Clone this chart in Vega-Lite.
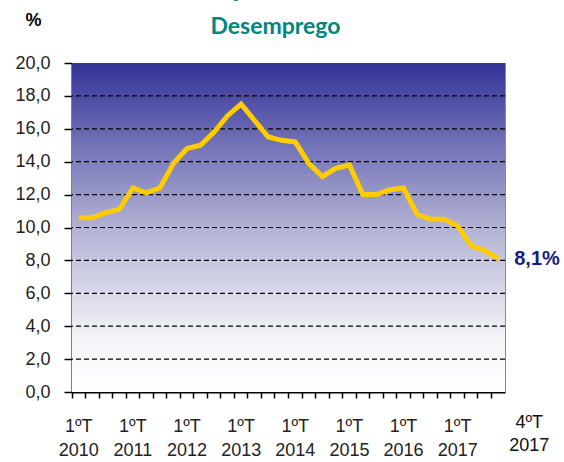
{
  "$schema": "https://vega.github.io/schema/vega-lite/v6.json",
  "autosize": "none",
  "width": 433,
  "height": 329,
  "padding": {"left": 72, "top": 63, "right": 59, "bottom": 70},
  "background": "white",
  "config": {
    "view": {"stroke": "#8a8a8a", "strokeWidth": 1},
    "font": "Liberation Sans",
    "axisY": {"labelOverlap": false},
    "axisX": {"labelOverlap": false}
  },
  "title": {
    "text": ["Evolução da Taxa de", "Desemprego"],
    "font": "Lato",
    "fontSize": 23,
    "fontWeight": "bold",
    "color": "#00857F",
    "anchor": "middle",
    "dx": -13,
    "dy": 36,
    "offset": 8,
    "lineHeight": 37
  },
  "datasets": {
    "taxa": [
      {"t": "2010-1", "v": 10.6}, {"t": "2010-2", "v": 10.6}, {"t": "2010-3", "v": 10.9}, {"t": "2010-4", "v": 11.1},
      {"t": "2011-1", "v": 12.4}, {"t": "2011-2", "v": 12.1}, {"t": "2011-3", "v": 12.4}, {"t": "2011-4", "v": 13.9},
      {"t": "2012-1", "v": 14.8}, {"t": "2012-2", "v": 15.0}, {"t": "2012-3", "v": 15.8}, {"t": "2012-4", "v": 16.8},
      {"t": "2013-1", "v": 17.5}, {"t": "2013-2", "v": 16.5}, {"t": "2013-3", "v": 15.5}, {"t": "2013-4", "v": 15.3},
      {"t": "2014-1", "v": 15.2}, {"t": "2014-2", "v": 13.9}, {"t": "2014-3", "v": 13.1}, {"t": "2014-4", "v": 13.6},
      {"t": "2015-1", "v": 13.8}, {"t": "2015-2", "v": 12.0}, {"t": "2015-3", "v": 12.0}, {"t": "2015-4", "v": 12.3},
      {"t": "2016-1", "v": 12.4}, {"t": "2016-2", "v": 10.8}, {"t": "2016-3", "v": 10.5}, {"t": "2016-4", "v": 10.5},
      {"t": "2017-1", "v": 10.1}, {"t": "2017-2", "v": 8.9}, {"t": "2017-3", "v": 8.6}, {"t": "2017-4", "v": 8.1}
    ],
    "fundo": [{"v": 0, "v2": 20}],
    "grade": [{"v": 2}, {"v": 4}, {"v": 6}, {"v": 8}, {"v": 10}, {"v": 12}, {"v": 14}, {"v": 16}, {"v": 18}],
    "notas": [{"t": "2017-4", "v": 8.1, "rotulo": "8,1%"}],
    "periodo": [{"t": "2017-4", "v": 0, "rotulo": "4ºT\n2017"}]
  },
  "encoding": {
    "y": {
      "field": "v", "type": "quantitative",
      "scale": {"domain": [0, 20], "nice": false},
      "axis": {
        "title": "%",
        "titleAngle": 0,
        "titleFont": "Liberation Sans",
        "titleFontSize": 18,
        "titleFontWeight": "bold",
        "titleColor": "black",
        "titleAlign": "center",
        "titleBaseline": "middle",
        "titleX": -39,
        "titleY": -43,
        "values": [0, 2, 4, 6, 8, 10, 12, 14, 16, 18, 20],
        "labelExpr": "replace(format(datum.value, '.1f'), '.', ',')",
        "labelFont": "Liberation Sans",
        "labelFontSize": 18,
        "labelColor": "#222222",
        "labelPadding": 14,
        "labelOverlap": false,
        "domainColor": "black",
        "domainWidth": 2,
        "tickColor": "black",
        "tickSize": 8,
        "tickWidth": 1.5,
        "grid": false
      }
    }
  },
  "layer": [
    {
      "data": {"name": "fundo"},
      "mark": {
        "type": "rect",
        "fill": {
          "gradient": "linear",
          "x1": 0, "y1": 0, "x2": 0, "y2": 1,
          "stops": [
            {"offset": 0, "color": "#333399"},
            {"offset": 0.5, "color": "#b2b2d4"},
            {"offset": 0.85, "color": "#f6f6fa"},
            {"offset": 1, "color": "#ffffff"}
          ]
        }
      },
      "encoding": {
        "y2": {"field": "v2"}
      }
    },
    {
      "data": {"name": "grade"},
      "mark": {"type": "rule", "color": "black", "strokeWidth": 1.2, "strokeDash": [5, 3]},
      "encoding": {}
    },
    {
      "data": {"name": "taxa"},
      "mark": {"type": "line", "color": "#FFCC00", "strokeWidth": 5, "strokeJoin": "miter"},
      "encoding": {
        "x": {
          "field": "t", "type": "ordinal", "sort": null,
          "scale": {"type": "band", "paddingInner": 0, "paddingOuter": 0},
          "axis": {
            "title": null,
            "labelAngle": 0,
            "labelExpr": "split(datum.value,'-')[1]=='1' ? ['1ºT', split(datum.value,'-')[0]] : ''",
            "labelFont": "Liberation Sans",
            "labelFontSize": 18,
            "labelColor": "#222222",
            "labelLineHeight": 24,
            "labelPadding": 19,
            "labelOverlap": false,
            "domainColor": "black",
            "domainWidth": 2,
            "tickColor": "black",
            "tickSize": 6,
            "tickWidth": 1.5,
            "bandPosition": 0,
            "labelOffset": 0,
            "grid": false
          }
        }
      }
    },
    {
      "data": {"name": "notas"},
      "mark": {"type": "text", "align": "left", "baseline": "middle", "dx": 16, "font": "Liberation Sans", "fontSize": 20, "fontWeight": "bold", "color": "#1a1a80"},
      "encoding": {
        "x": {"field": "t", "type": "ordinal", "sort": null},
        "text": {"field": "rotulo"}
      }
    },
    {
      "data": {"name": "periodo"},
      "mark": {"type": "text", "align": "center", "baseline": "top", "dx": 31, "dy": 22, "lineBreak": "\n", "lineHeight": 23, "font": "Liberation Sans", "fontSize": 18, "color": "#111111"},
      "encoding": {
        "x": {"field": "t", "type": "ordinal", "sort": null},
        "text": {"field": "rotulo"}
      }
    }
  ]
}
